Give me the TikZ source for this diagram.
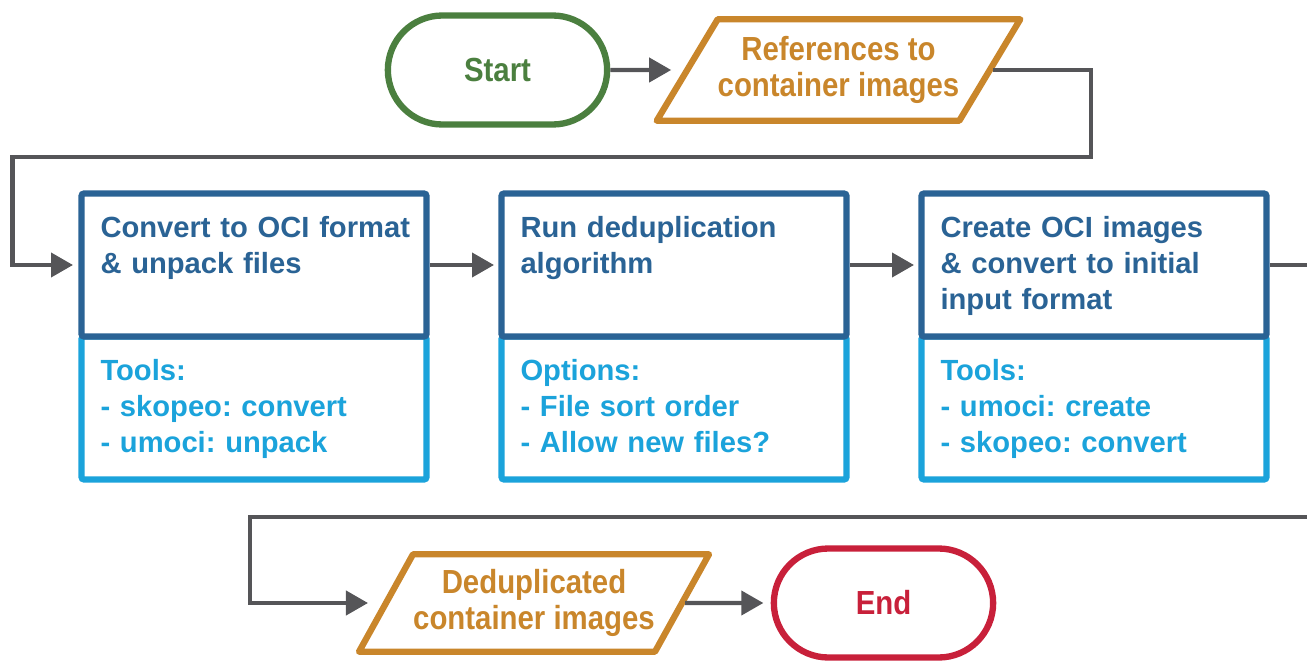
\documentclass[tikz,border=0pt]{standalone}
\usepackage{fontspec}
\setmainfont{Liberation Sans}
\newfontfamily\narrowfont[FakeStretch=0.88]{Liberation Sans}
\usepackage{tikz}
\usetikzlibrary{positioning, arrows.meta, shapes.geometric, shapes.misc}
\usepackage{xcolor}
\frenchspacing

\definecolor{startgreen}{RGB}{75,127,63}
\definecolor{stopred}{RGB}{200,32,58}
\definecolor{dataorange}{RGB}{201,134,43}
\definecolor{stepblue}{RGB}{42,99,149}
\definecolor{toolblue}{RGB}{27,163,219}
\definecolor{flowgray}{RGB}{85,85,88}

\tikzset{
  terminal/.style={rounded rectangle, draw, line width=3.6pt, minimum width=4.62cm,
    minimum height=2.18cm, outer sep=0pt, font=\narrowfont\bfseries\fontsize{19}{20}\selectfont},
  dataio/.style={trapezium, trapezium stretches body=true, trapezium left angle=59,
    trapezium right angle=121, draw=dataorange, text=dataorange, line width=3.6pt,
    line join=round, minimum width=7.1cm, inner xsep=0pt, inner ysep=0.35cm,
    outer sep=0pt, align=center, font=\narrowfont\bfseries\fontsize{19}{20}\selectfont},
  stepbox/.style={rectangle, draw=stepblue, text=stepblue, fill=white, line width=3.6pt,
    rounded corners=1.5pt, text width=6.14cm, align=left, inner xsep=0.38cm,
    inner ysep=0.42cm, text height=0.45cm, text depth=1.57cm, outer sep=0pt,
    font=\bfseries\fontsize{16.6}{20.5}\selectfont},
  toolbox/.style={stepbox, draw=toolblue, text=toolblue},
  flow/.style={-{Triangle[length=0.44cm,width=0.48cm]}, line width=2.3pt,
    draw=flowgray, shorten <=1.8pt}
}

\begin{document}
\begin{tikzpicture}
  \useasboundingbox (0,0) rectangle (26.14,-13.22);
  % Inicio e entrada
  \node[terminal, draw=startgreen, text=startgreen] (start) at (9.95,-1.40) {Start};
  \node[dataio] (refs) at (16.77,-1.40) {References to\\container images};
  % Etapas com ferramentas
  \node[toolbox, anchor=south] (convtools) at (5.08,-9.59)
    {Tools:\\- skopeo: convert\\- umoci: unpack};
  \node[stepbox, above=0pt of convtools] (conv) {\mbox{Convert to OCI format}\\\& unpack files};
  \node[toolbox, right=1.5cm of convtools] (deduptools)
    {Options:\\- File sort order\\- Allow new files?};
  \node[stepbox, above=0pt of deduptools] (dedup) {Run deduplication\\algorithm};
  \node[toolbox, right=1.5cm of deduptools] (buildtools)
    {Tools:\\- umoci: create\\- skopeo: convert};
  \node[stepbox, above=0pt of buildtools] (build)
    {Create OCI images\\\& convert to initial\\input format};
  % Saida e fim
  \node[dataio, trapezium left angle=61, trapezium right angle=119, minimum width=7.0cm,
    inner ysep=0.31cm] (result) at (10.68,-12.06) {Deduplicated\\container images};
  \node[terminal, draw=stopred, text=stopred] (stop) at (17.67,-12.06) {End};
  % Pontos de retorno das setas
  \coordinate (turnR) at (21.82,-3.14);
  \coordinate (turnL) at (0.25,-3.14);
  \coordinate (exitR) at (26.5,-10.34);
  \coordinate (backL) at (5.0,-10.34);
  % Setas
  \draw[flow, shorten >=0.32cm] (start.east) -- (refs.west);
  \draw[flow, shorten >=0.17cm] (refs.east) -| (turnR) -- (turnL) |- (conv.west);
  \draw[flow, shorten >=0.15cm] (conv.east) -- (dedup.west);
  \draw[flow, shorten >=0.15cm] (dedup.east) -- (build.west);
  \draw[flow, shorten >=0.36cm] (build.east) -| (exitR) -- (backL) |- (result.west);
  \draw[flow, shorten >=0.21cm] (result.east) -- (stop.west);
\end{tikzpicture}
\end{document}
